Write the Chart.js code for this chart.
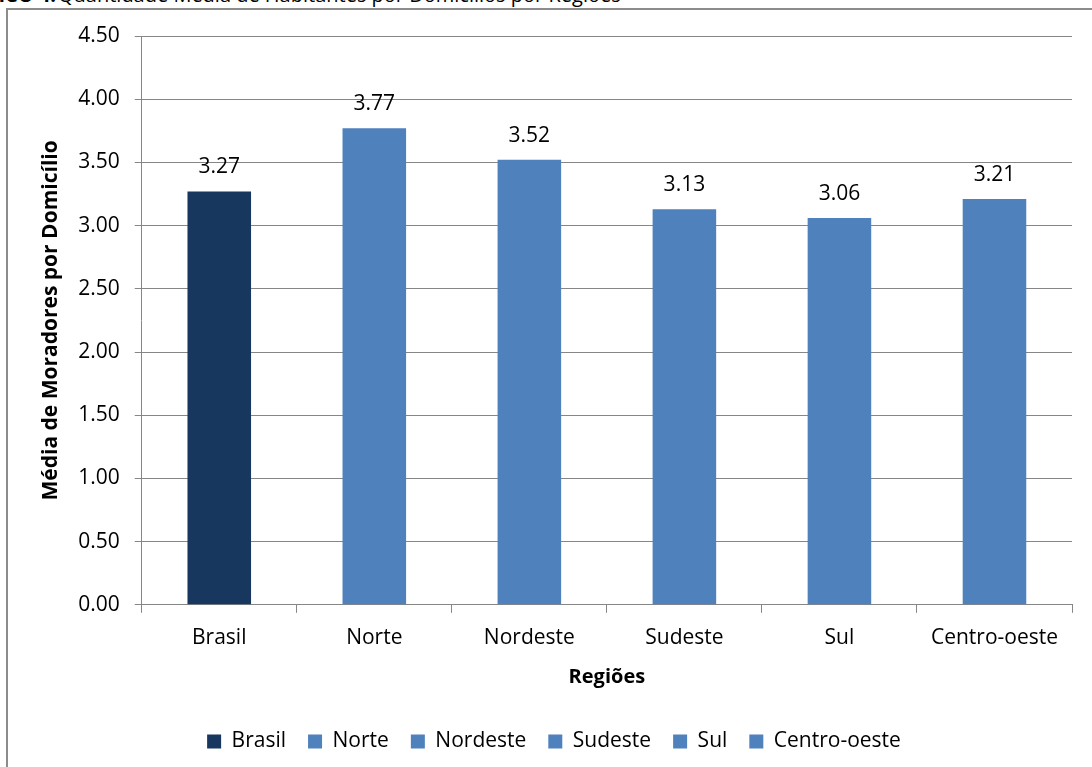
<!DOCTYPE html>
<html>
<head>
<meta charset="utf-8">
<script src="https://cdn.jsdelivr.net/npm/chart.js@4/dist/chart.umd.min.js"></script>
<style>
  html, body { margin: 0; padding: 0; background: #fff; overflow: hidden; }
  #page { position: relative; width: 1092px; height: 767px; overflow: hidden; }
  #frame { position: absolute; left: 6px; top: 8px; width: 1200px; height: 800px;
           border-left: 2px solid #8c8c8c; border-top: 2px solid #8c8c8c; }
  .cap { position: absolute; top: -19px; font: 20px "Open Sans", sans-serif; color: #000; white-space: nowrap; }
  #capPre { right: 1036px; font-weight: bold; }
  #capTxt { left: 58px; }
  #wrap { position: absolute; left: 0; top: 0; width: 1092px; height: 767px; }
</style>
</head>
<body>
<div id="page">
  <div id="frame"></div>
  <div class="cap" id="capPre">GRÁFICO 4:</div>
  <div class="cap" id="capTxt">Quantidade Média de Habitantes por Domicílios por Regiões</div>
  <div id="wrap"><canvas id="grafico"></canvas></div>
</div>
<script>
// dados do gráfico
const regioes = ['Brasil', 'Norte', 'Nordeste', 'Sudeste', 'Sul', 'Centro-oeste'];
const mediaMoradores = [3.27, 3.77, 3.52, 3.13, 3.06, 3.21];
const coresBarras = ['#17375E', '#4F81BD', '#4F81BD', '#4F81BD', '#4F81BD', '#4F81BD'];

const fonte = '"Open Sans", sans-serif';

// rótulos de valor acima das barras
const rotulosValor = {
    id: 'rotulosValor',
    afterDatasetsDraw(chart) {
        const ctx = chart.ctx;
        const meta = chart.getDatasetMeta(0);
        ctx.save();
        ctx.font = '21px ' + fonte;
        ctx.fillStyle = '#000';
        ctx.textAlign = 'center';
        ctx.textBaseline = 'middle';
        meta.data.forEach((bar, i) => {
            ctx.fillText(mediaMoradores[i].toFixed(2), bar.x, bar.y - 24);
        });
        ctx.restore();
    }
};

const ctx = document.getElementById('grafico').getContext('2d');
new Chart(ctx, {
    type: 'bar',
    data: {
        labels: regioes,
        datasets: [{
            label: 'Média',
            data: mediaMoradores,
            backgroundColor: coresBarras,
            borderWidth: 0,
            barPercentage: 0.41,
            categoryPercentage: 1.0
        }]
    },
    options: {
        responsive: true,
        maintainAspectRatio: false,
        animation: false,
        layout: { padding: { left: 36, right: 20, top: 36, bottom: 5 } },
        scales: {
            x: {
                grid: { display: true, drawOnChartArea: false, drawTicks: true, tickLength: 8, color: '#868686', offset: true },
                border: { color: '#868686', width: 1 },
                ticks: { color: '#000', font: { family: fonte, size: 21 }, padding: 13 },
                title: { display: true, text: 'Regiões', color: '#000', font: { family: fonte, size: 20, weight: 'bold' }, padding: { top: 1, bottom: 20 } }
            },
            y: {
                min: 0,
                max: 4.5,
                ticks: {
                    stepSize: 0.5,
                    color: '#000',
                    font: { family: fonte, size: 21 },
                    padding: 15,
                    callback: v => v.toFixed(2)
                },
                grid: { color: '#868686', tickLength: 7 },
                border: { color: '#868686' },
                title: { display: true, text: 'Média de Moradores por Domicílio', color: '#000', font: { family: fonte, size: 21, weight: 'bold' }, padding: { top: 2, bottom: 0 } }
            }
        },
        plugins: {
            legend: {
                position: 'bottom',
                labels: {
                    color: '#000',
                    font: { family: fonte, size: 21 },
                    boxWidth: 14,
                    boxHeight: 14,
                    padding: 22,
                    generateLabels: () => regioes.map((r, i) => ({
                        text: r,
                        fillStyle: coresBarras[i],
                        strokeStyle: coresBarras[i],
                        lineWidth: 0,
                        hidden: false,
                        index: i
                    }))
                },
                onClick: () => {}
            },
            tooltip: { enabled: false }
        }
    },
    plugins: [rotulosValor]
});
</script>
</body>
</html>
